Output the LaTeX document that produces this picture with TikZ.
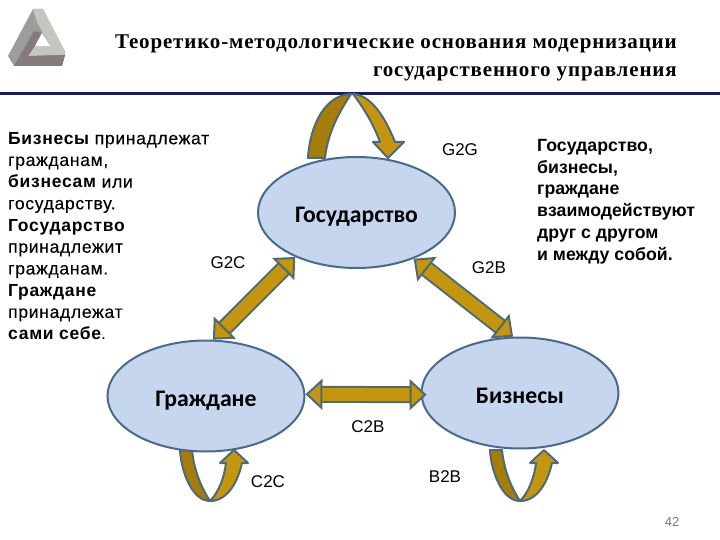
\documentclass[tikz,border=0pt]{standalone}
\usepackage{fontspec}
\usetikzlibrary{arrows.meta,shapes.geometric}
\setmainfont{Liberation Sans}
\newfontfamily\titlefont[LetterSpace=4]{Liberation Serif}
\newfontfamily\labelfont{Carlito}
\newfontfamily\leftfont[LetterSpace=4]{Liberation Sans}
\newfontfamily\bodyfont[LetterSpace=4,FakeBold=0.25]{Liberation Sans}
\definecolor{oval}{HTML}{C5D6EE}
\definecolor{ovaledge}{HTML}{4A6A8A}
\definecolor{gold}{HTML}{C4960F}
\definecolor{golddark}{HTML}{A67C0A}
\definecolor{goldedge}{HTML}{4F6A74}
\definecolor{rulecolor}{HTML}{1C1C5C}
\definecolor{logolight}{HTML}{C4C6C0}
\definecolor{logomid}{HTML}{9C9E9C}
\definecolor{logodark}{HTML}{857A7C}
\tikzset{
  party/.style={ellipse, draw=ovaledge, fill=oval, line width=2pt, inner sep=0pt,
    minimum width=197pt, minimum height=111pt, text height=20pt, text depth=0pt,
    font=\labelfont\bfseries\fontsize{23.7}{23.7}\selectfont},
  link/.style={font=\fontsize{17}{17}\selectfont, inner sep=0pt},
  blockarrow/.style={draw=goldedge, line width=2pt, double=gold, double distance=13pt,
    {Triangle[width=31pt,length=17pt,fill=gold,line width=2pt]}-{Triangle[width=31pt,length=17pt,fill=gold,line width=2pt]}},
  loopedge/.style={draw=goldedge, line width=2pt, line join=round},
  note/.style={align=left, anchor=north west, inner sep=0pt},
  titleline/.style={anchor=base east, inner sep=0pt, font=\titlefont\bfseries\fontsize{21}{21}\selectfont},
  selfloop/.pic={
    \filldraw[loopedge, fill=golddark] (-30,-51) .. controls (-29,-30) and (-18,0) .. (0,0)
      .. controls (-8,-12) and (-16,-30) .. (-18,-51) -- cycle;
    \filldraw[loopedge, fill=gold] (0,0) .. controls (18,0) and (28,-20) .. (32,-38)
      -- (38,-38) -- (24,-51) -- (10,-38) -- (16,-38) .. controls (14,-22) and (8,-8) .. (0,0) -- cycle;
  }
}
\begin{document}
\begin{tikzpicture}[x=1pt, y=-1pt]
  \useasboundingbox (0,0) rectangle (720,540);

  % Logo
  \fill[logomid] (33,9) -- (43,9) -- (65,55) -- (62,66) -- (14,66) -- (8,56) -- cycle;
  \fill[logolight] (33,9) -- (43,9) -- (66,53) -- (62,55) -- (28,56) -- (35,46) -- (50,46) -- (37,22) -- cycle;
  \fill[logodark] (14,66) -- (62,66) -- (65,55) -- (28,56) -- (35,46) -- (42,33) -- (34,31) -- cycle;
  \fill[white] (35,46) -- (50,46) -- (42,33) -- cycle;

  % Title
  \node[titleline] (title1) at (677,49) {Теоретико-методологические основания модернизации};
  \node[titleline] (title2) at (677,77) {государственного управления};
  \coordinate (ruleL) at (0,93.5);
  \coordinate (ruleR) at (720,93.5);
  \draw[rulecolor, line width=2.2pt] (ruleL) -- (ruleR);

  % Top loop
  \filldraw[loopedge, fill=golddark] (308,158) .. controls (310,125) and (325,95) .. (351,94)
    .. controls (342,108) and (328,130) .. (325,158) -- cycle;
  \filldraw[loopedge, fill=gold] (353,94) .. controls (371,95) and (385,117) .. (395,142)
    -- (404,142) -- (388,158) -- (373,142) -- (380,142) .. controls (373,123) and (363,107) .. (353,94) -- cycle;

  % Bottom loops
  \pic at (210,501) {selfloop};
  \pic at (520,501) {selfloop};

  % Parties
  \node[party] (gov) at (356.5,212.5) {Государство};
  \node[party] (cit) at (206,396) {Граждане};
  \node[party] (biz) at (520,393) {Бизнесы};

  % Links between parties
  \draw[blockarrow] (gov.216) -- (cit.83);
  \draw[blockarrow] (gov.-39) -- (biz.97);
  \draw[blockarrow] (cit.1) -- ([xshift=6pt]biz.181);

  % Link labels
  \node[link] (g2g) at (460,150) {G2G};
  \node[link] (g2c) at (228,263) {G2C};
  \node[link] (g2b) at (489,268) {G2B};
  \node[link] (c2b) at (368,427) {C2B};
  \node[link] (c2c) at (268,482) {C2C};
  \node[link] (b2b) at (445,477) {B2B};

  % Notes
  \node[note, font=\leftfont\fontsize{17.5}{21.7}\selectfont] (left) at (8,132) {\bfseries Бизнесы \bodyfont\mdseries принадлежат\\
    \bodyfont гражданам,\\
    \leftfont\bfseries бизнесам \bodyfont\mdseries или\\
    \bodyfont государству.\\
    \leftfont\bfseries Государство\\
    \bodyfont принадлежит\\
    \bodyfont гражданам.\\
    \leftfont\bfseries Граждане\\
    \bodyfont принадлежат\\
    \leftfont\bfseries сами себе\mdseries .};
  \node[note, font=\bfseries\fontsize{17.7}{21.8}\selectfont] (right) at (537,139) {Государство,\\
    бизнесы,\\
    граждане\\
    взаимодействуют\\
    друг с другом\\
    и между собой.};

  % Page number
  \node[inner sep=0pt, text=black!55, font=\fontsize{13}{13}\selectfont] (page) at (672,522) {42};
\end{tikzpicture}
\end{document}
